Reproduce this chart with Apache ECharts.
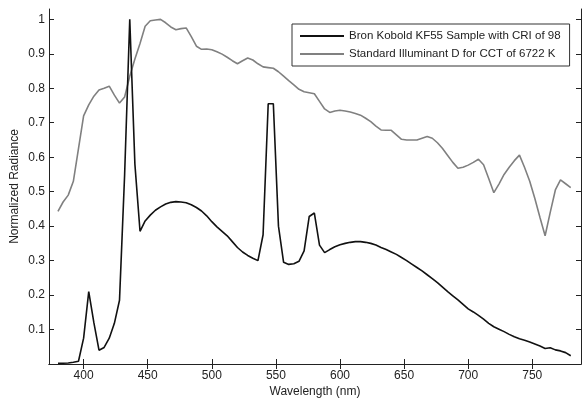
<!DOCTYPE html>
<html>
<head>
<meta charset="utf-8">
<script src="https://cdn.jsdelivr.net/npm/echarts@6/dist/echarts.min.js"></script>
<style>
html,body{margin:0;padding:0;background:#fff;}
#chart{width:583px;height:398px;}
</style>
</head>
<body>
<div id="chart"></div>
<script>
// Wavelengths (nm), 4 nm steps from 380 to 780
var wavelengths = [380,384,388,392,396,400,404,408,412,416,420,424,428,432,436,440,444,448,452,456,460,464,468,472,476,480,484,488,492,496,500,504,508,512,516,520,524,528,532,536,540,544,548,552,556,560,564,568,572,576,580,584,588,592,596,600,604,608,612,616,620,624,628,632,636,640,644,648,652,656,660,664,668,672,676,680,684,688,692,696,700,704,708,712,716,720,724,728,732,736,740,744,748,752,756,760,764,768,772,776,780];

var sampleName = 'Bron Kobold KF55 Sample with CRI of 98';
var sampleValues = [0.002,0.002,0.003,0.005,0.008,0.075,0.21,0.12,0.04,0.048,0.075,0.118,0.185,0.55,1.0,0.58,0.385,0.415,0.432,0.446,0.456,0.464,0.469,0.471,0.470,0.468,0.462,0.454,0.444,0.430,0.413,0.398,0.385,0.372,0.355,0.338,0.325,0.315,0.307,0.300,0.375,0.755,0.755,0.40,0.295,0.289,0.291,0.298,0.328,0.428,0.438,0.345,0.323,0.332,0.340,0.346,0.350,0.353,0.355,0.355,0.353,0.350,0.345,0.338,0.332,0.325,0.318,0.309,0.300,0.290,0.280,0.270,0.259,0.248,0.236,0.223,0.210,0.198,0.186,0.173,0.160,0.151,0.141,0.130,0.118,0.108,0.101,0.094,0.086,0.079,0.073,0.069,0.064,0.058,0.052,0.045,0.047,0.041,0.038,0.033,0.024];

var refName = 'Standard Illuminant D for CCT of 6722 K';
var refValues = [0.443,0.470,0.490,0.530,0.625,0.720,0.752,0.777,0.795,0.800,0.806,0.780,0.757,0.775,0.835,0.885,0.930,0.980,0.996,0.998,1.000,0.990,0.978,0.970,0.973,0.975,0.950,0.922,0.913,0.914,0.912,0.906,0.899,0.890,0.880,0.871,0.880,0.888,0.882,0.871,0.862,0.860,0.858,0.848,0.835,0.822,0.810,0.797,0.790,0.787,0.784,0.762,0.740,0.730,0.734,0.736,0.734,0.731,0.727,0.722,0.713,0.703,0.690,0.679,0.678,0.678,0.665,0.652,0.650,0.650,0.650,0.655,0.660,0.655,0.642,0.625,0.605,0.585,0.568,0.571,0.577,0.585,0.594,0.578,0.538,0.497,0.522,0.550,0.571,0.590,0.606,0.570,0.530,0.480,0.425,0.372,0.440,0.505,0.534,0.523,0.512];

var xTicks = [400,450,500,550,600,650,700,750];
var yTicks = [0.1,0.2,0.3,0.4,0.5,0.6,0.7,0.8,0.9,1];

var xTitle = 'Wavelength (nm)';
var yTitle = 'Normalized Radiance';

function pairs(xs, ys){ return xs.map(function(x,i){ return [x, ys[i]]; }); }

var FONT = 'Liberation Sans, Arial, Helvetica, sans-serif';
var axisLine = {show:true, lineStyle:{color:'#222', width:1}};

var chart = echarts.init(document.getElementById('chart'), null, {renderer:'canvas'});
chart.setOption({
  animation:false,
  backgroundColor:'#fff',
  grid:{left:49, right:2, top:9, bottom:34, containLabel:false, outerBoundsMode:'none'},
  legend:{
    show:true, orient:'vertical', left:292, top:24,
    padding:[5,9,5,8], itemGap:4, itemWidth:44, itemHeight:2,
    icon:'rect',
    borderColor:'#333', borderWidth:1, backgroundColor:'#fff',
    textStyle:{fontFamily:FONT, fontSize:11.5, color:'#222', lineHeight:14},
    data:[sampleName, refName]
  },
  xAxis:[{
    type:'value', min:373, max:788, position:'bottom',
    name:xTitle, nameLocation:'middle', nameGap:22, nameMoveOverlap:false,
    nameTextStyle:{fontFamily:FONT, fontSize:12, color:'#222'},
    axisLine:axisLine,
    axisTick:{show:true, inside:true, length:5, customValues:xTicks, lineStyle:{color:'#222'}},
    axisLabel:{show:true, customValues:xTicks, margin:6, fontFamily:FONT, fontSize:12, color:'#222'},
    splitLine:{show:false}
  },{
    type:'value', min:373, max:788, position:'top',
    axisLine:axisLine,
    axisTick:{show:true, inside:true, length:5, customValues:xTicks, lineStyle:{color:'#222'}},
    axisLabel:{show:false},
    splitLine:{show:false}
  }],
  yAxis:[{
    type:'value', min:0, max:1.03, position:'left',
    name:yTitle, nameLocation:'middle', nameGap:28, nameMoveOverlap:false,
    nameTextStyle:{fontFamily:FONT, fontSize:12, color:'#222'},
    axisLine:axisLine,
    axisTick:{show:true, inside:true, length:5, customValues:yTicks, lineStyle:{color:'#222'}},
    axisLabel:{show:true, customValues:yTicks, margin:4, fontFamily:FONT, fontSize:12, color:'#222',
      formatter:function(v){ return v===1 ? '1' : v.toFixed(1); }},
    splitLine:{show:false}
  },{
    type:'value', min:0, max:1.03, position:'right',
    axisLine:axisLine,
    axisTick:{show:true, inside:true, length:5, customValues:yTicks, lineStyle:{color:'#222'}},
    axisLabel:{show:false},
    splitLine:{show:false}
  }],
  series:[{
    name:sampleName, type:'line', xAxisIndex:0, yAxisIndex:0,
    data:pairs(wavelengths, sampleValues),
    symbol:'none', showSymbol:false, color:'#111',
    lineStyle:{color:'#111', width:1.6}, z:3
  },{
    name:refName, type:'line', xAxisIndex:0, yAxisIndex:0,
    data:pairs(wavelengths, refValues),
    symbol:'none', showSymbol:false, color:'#808080',
    lineStyle:{color:'#808080', width:1.6}, z:2
  }]
});
</script>
</body>
</html>
